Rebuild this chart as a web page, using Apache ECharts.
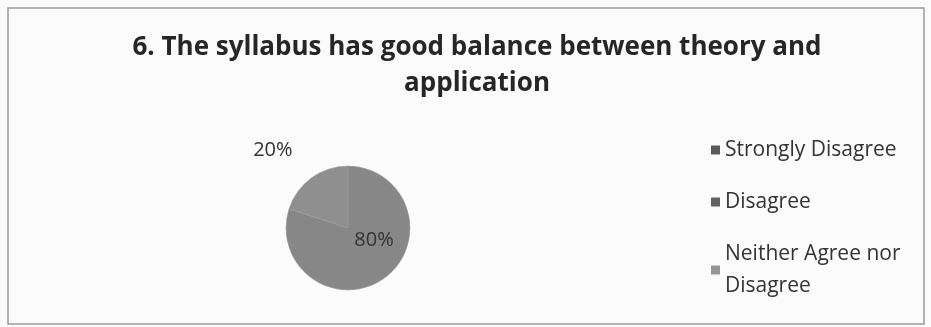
<!DOCTYPE html>
<html><head><meta charset="utf-8">
<script src="https://cdn.jsdelivr.net/npm/echarts@6/dist/echarts.min.js"></script>
<style>html,body{margin:0;padding:0;background:#fbfbfb;}#c{width:931px;height:327px;}</style>
</head><body><div id="c"></div>
<script>
const titleText = "6. The syllabus has good balance between theory and\napplication";
const categories = ["Strongly Disagree", "Disagree", "Neither Agree nor\nDisagree", "Agree", "Strongly Agree"];
const values = [0, 0, 0, 80, 20];
const colors = ["#5a5a5a", "#626262", "#959595", "#878787", "#8f8f8f"];
const legendItems = categories.slice(0, 3);

const chart = echarts.init(document.getElementById('c'), null, {renderer: 'canvas'});
const data = categories.map((c, i) => {
  const d = {name: c, value: values[i], itemStyle: {color: colors[i]}};
  if (values[i] === 0) { d.label = {show: false}; d.labelLine = {show: false}; }
  else if (values[i] >= 50) { d.label = {position: 'inside', offset: [6, -15]}; }
  else { d.label = {position: 'outside', distanceToLabelLine: -1}; d.labelLine = {show: false, length: 34, length2: 0}; }
  return d;
});
chart.setOption({
  backgroundColor: '#fbfbfb',
  animation: false,
  title: {
    text: titleText, left: 472, top: 25, textAlign: 'center',
    textStyle: {fontFamily: 'Open Sans', fontWeight: 'bold', fontSize: 26, color: '#262626', lineHeight: 36}
  },
  legend: {
    data: legendItems, orient: 'vertical', left: 706, top: 129, height: 200,
    itemWidth: 9, itemHeight: 9, itemGap: 20, icon: 'rect',
    itemStyle: {borderWidth: 0},
    textStyle: {fontFamily: 'Open Sans', fontSize: 21, color: '#333', lineHeight: 32}
  },
  graphic: [{type: 'rect', shape: {x: 8, y: 8, width: 916, height: 316}, style: {fill: 'none', stroke: '#9a9a9a', lineWidth: 1.5}, silent: true}],
  series: [{
    type: 'pie', center: [348, 228], radius: 62, startAngle: 90, clockwise: true,
    data: data,
    label: {formatter: p => p.value + '%', fontFamily: 'Open Sans', fontSize: 20, color: '#333'},
    itemStyle: {borderColor: '#9c9c9c', borderWidth: 0.5}
  }]
});
</script></body></html>
